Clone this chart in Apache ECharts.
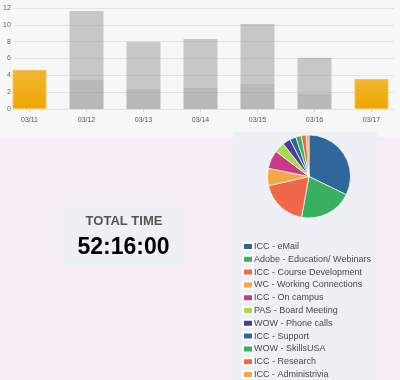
<!DOCTYPE html>
<html>
<head>
<meta charset="utf-8">
<script src="https://cdn.jsdelivr.net/npm/echarts@6/dist/echarts.min.js"></script>
<style>
html,body{margin:0;padding:0;background:#f7eef5;}
#c{width:400px;height:380px;}
</style>
</head>
<body>
<div id="c"></div>
<script>
// ---- data ----
var days = ['03/11','03/12','03/13','03/14','03/15','03/16','03/17'];
var dayTotal = [4.65, 11.63, 8.0, 8.33, 10.1, 6.1, 3.57];
var dayLower = [0, 3.45, 2.38, 2.5, 2.98, 1.79, 0];
var highlightedDays = ['03/11','03/17'];
var yTicks = [0, 2, 4, 6, 8, 10, 12];

var taskNames = ['ICC - eMail','Adobe - Education/ Webinars','ICC - Course Development','WC - Working Connections','ICC - On campus','PAS - Board Meeting','WOW - Phone calls','ICC - Support','WOW - SkillsUSA','ICC - Research','ICC - Administrivia'];
var taskHours = [16.7, 10.7, 9.6, 3.5, 3.7, 2.1, 1.6, 1.25, 1.1, 1.0, 0.55];
var taskColors = ['#30679a','#38b060','#f0674a','#f0a848','#c63a88','#a6dc48','#4b3c9c','#30679a','#38b060','#f0674a','#f0a848'];

var totalTitle = 'TOTAL TIME';
var totalValue = '52:16:00';

// ---- build series data ----
var orangeData = [], lowerData = [], upperData = [];
days.forEach(function(d, i){
  if (highlightedDays.indexOf(d) >= 0) {
    orangeData.push(dayTotal[i]); lowerData.push('-'); upperData.push('-');
  } else {
    orangeData.push('-'); lowerData.push(dayLower[i]);
    upperData.push(+(dayTotal[i] - dayLower[i]).toFixed(2));
  }
});
var pieData = taskNames.map(function(n, i){
  return {name: n, value: taskHours[i], itemStyle: {color: taskColors[i]}};
});

var chart = echarts.init(document.getElementById('c'), null, {renderer: 'canvas'});
var font = 'Arial, "Liberation Sans", sans-serif';
chart.setOption({
  backgroundColor: '#f7eef5',
  animation: false,
  textStyle: {fontFamily: font},
  graphic: [
    {type: 'rect', z: -10, shape: {x: 0, y: 0, width: 400, height: 137}, style: {fill: '#f7f7f7'}},
    {type: 'rect', z: -9, shape: {x: 233, y: 132, width: 144, height: 248}, style: {fill: '#eef0f5'}},
    {type: 'rect', z: -9, shape: {x: 62, y: 205, width: 124, height: 63}, style: {fill: '#eef0f5'}},
    {type: 'text', z: 5, style: {text: totalTitle, x: 124, y: 221, align: 'center', verticalAlign: 'middle',
      font: 'bold 13px ' + font, fill: '#555555'}},
    {type: 'text', z: 5, style: {text: totalValue, x: 123.5, y: 248, align: 'center', verticalAlign: 'middle',
      font: 'bold 23px ' + font, fill: '#000000'}}
  ],
  grid: [
    {left: 13, top: 8, width: 381, height: 101},
    {left: 1, top: 8, width: 405, height: 101}
  ],
  xAxis: [
    {gridIndex: 0, type: 'value', show: false, min: 0, max: 1},
    {gridIndex: 1, type: 'category', data: days, boundaryGap: true,
      axisLine: {show: false},
      axisTick: {show: true, alignWithLabel: true, length: 3, lineStyle: {color: '#d8d8d8'}},
      axisLabel: {fontSize: 7, color: '#555', margin: 8, fontFamily: font}}
  ],
  yAxis: [
    {gridIndex: 0, type: 'value', min: 0, max: 12, interval: 2,
      axisLine: {show: false}, axisTick: {show: false},
      axisLabel: {fontSize: 7, color: '#666', margin: 3, fontFamily: font},
      splitLine: {lineStyle: {color: '#e2e2e2', width: 1}}},
    {gridIndex: 1, type: 'value', min: 0, max: 12, interval: 2, show: false, splitLine: {show: false}}
  ],
  legend: {
    orient: 'vertical', left: 242, top: 241.5, height: 400, padding: 0,
    itemWidth: 10, itemHeight: 7, itemGap: 2.8, icon: 'rect',
    textStyle: {fontSize: 9, color: '#4a4a4a', lineHeight: 10, fontFamily: font, padding: [0, 0, 0, -4]},
    data: taskNames
  },
  series: [
    {type: 'bar', xAxisIndex: 1, yAxisIndex: 1, stack: 's', barWidth: 34, data: orangeData,
      itemStyle: {color: new echarts.graphic.LinearGradient(0, 0, 0, 1, [
        {offset: 0, color: '#f1b634'}, {offset: 1, color: '#eea600'}]),
        borderColor: '#f4c45a', borderWidth: 1}},
    {type: 'bar', xAxisIndex: 1, yAxisIndex: 1, stack: 's', barWidth: 34, data: lowerData,
      itemStyle: {color: 'rgba(140,140,140,0.58)'}},
    {type: 'bar', xAxisIndex: 1, yAxisIndex: 1, stack: 's', barWidth: 34, data: upperData,
      itemStyle: {color: 'rgba(160,160,160,0.55)'}},
    {type: 'pie', center: [309, 176.5], radius: 41.5, startAngle: 90, clockwise: true,
      label: {show: false}, labelLine: {show: false},
      itemStyle: {borderColor: '#ffffff', borderWidth: 0.7},
      data: pieData}
  ]
});
</script>
</body>
</html>
